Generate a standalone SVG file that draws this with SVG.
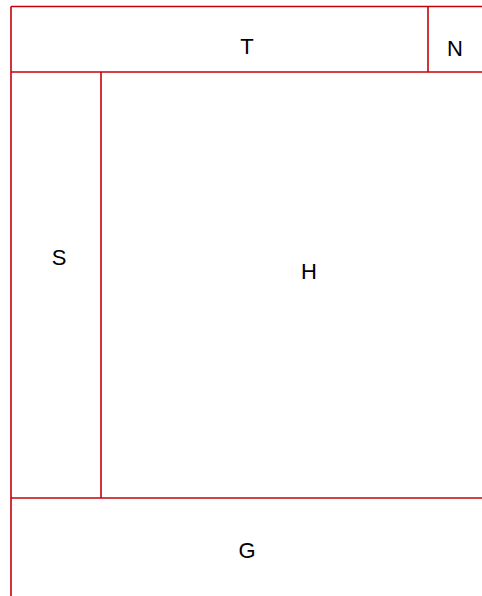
<svg xmlns="http://www.w3.org/2000/svg" width="482" height="596" viewBox="0 0 482 596">
<style>
.ln{stroke:#c4000a;stroke-width:1.6;fill:none}
.lb{font-family:"Liberation Sans",Arial,sans-serif;font-size:22px;fill:#000;text-anchor:middle;dominant-baseline:central}
</style>
<rect width="482" height="596" fill="#fff"/>
<g id="connectors">
<line class="ln" x1="11" y1="6.5" x2="482" y2="6.5"/>
<line class="ln" x1="11" y1="6.5" x2="11" y2="596"/>
<line class="ln" x1="11" y1="72" x2="482" y2="72"/>
<line class="ln" x1="428" y1="6.5" x2="428" y2="72"/>
<line class="ln" x1="101" y1="72" x2="101" y2="498"/>
<line class="ln" x1="11" y1="498" x2="482" y2="498"/>
</g>
<g id="T"><text class="lb" x="247" y="46">T</text></g>
<g id="N"><text class="lb" x="455" y="48">N</text></g>
<g id="S"><text class="lb" x="59" y="257">S</text></g>
<g id="H"><text class="lb" x="309" y="271">H</text></g>
<g id="G"><text class="lb" x="247" y="550">G</text></g>
</svg>
